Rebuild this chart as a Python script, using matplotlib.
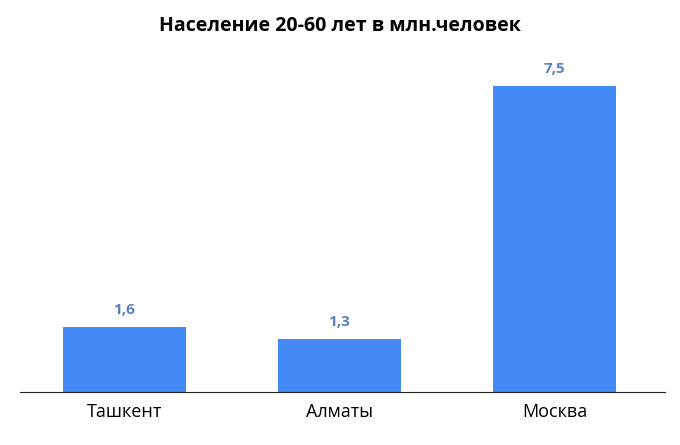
import matplotlib.pyplot as plt

cities = ['Ташкент', 'Алматы', 'Москва']
population = [1.6, 1.3, 7.5]
value_labels = ['1,6', '1,3', '7,5']


def main():
    fig = plt.figure(figsize=[6.8, 4.45], dpi=100)
    ax = fig.add_axes([0.029, 0.119, 0.949, 0.733])
    plt.rcParams['font.family'] = ['Open Sans', 'DejaVu Sans']

    x = range(len(cities))
    ax.bar(x, population, width=0.572, color='#4589f5')
    for xi, v, lab in zip(x, population, value_labels):
        ax.text(xi, v + 0.25, lab, ha='center', va='bottom',
                fontsize=11, fontweight='bold', color='#5b80c0',
                family=['Open Sans', 'DejaVu Sans'])

    ax.set_xlim(-0.486, 2.514)
    ax.set_ylim(0, 8)
    ax.set_xticks(list(x))
    ax.set_xticklabels(cities, fontsize=13, family=['Open Sans', 'DejaVu Sans'])
    ax.tick_params(axis='x', length=0, pad=8)
    ax.set_yticks([])
    for side in ['top', 'right', 'left']:
        ax.spines[side].set_visible(False)
    ax.spines['bottom'].set_color('#222222')

    fig.suptitle('Население 20-60 лет в млн.человек', y=0.965,
                 fontsize=14, fontweight='bold',
                 family=['Open Sans', 'DejaVu Sans'])

    fig.savefig('out.png', dpi=100)


if __name__ == '__main__':
    main()
